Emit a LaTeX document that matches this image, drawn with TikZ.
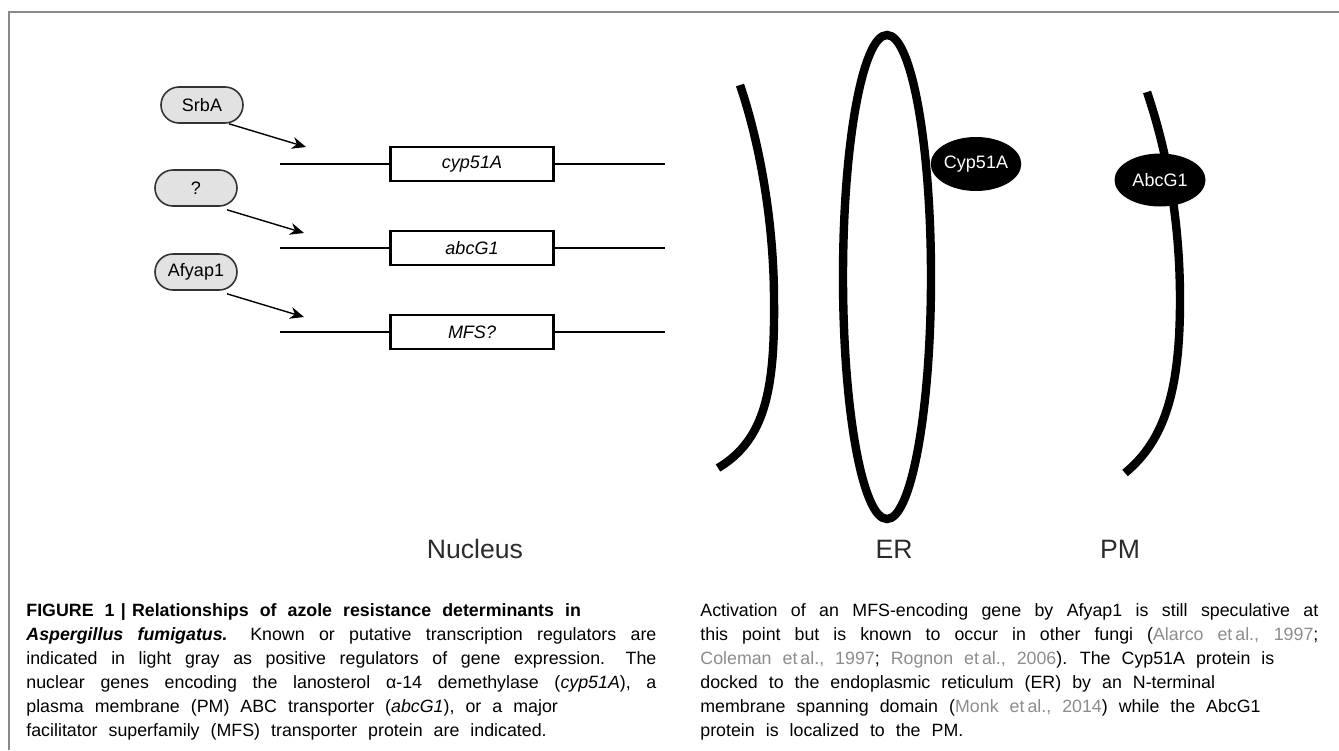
\documentclass[tikz,border=0pt]{standalone}
\usepackage{fontspec}
\setmainfont{Liberation Sans}
\usepackage{xcolor}
\usetikzlibrary{arrows.meta}
\usetikzlibrary{shapes.geometric}
\usetikzlibrary{shapes.misc}
\definecolor{pillgray}{HTML}{E2E2E2}
\definecolor{framegray}{HTML}{8A8A8A}
\definecolor{citegray}{HTML}{8C8C8C}
\definecolor{labelgray}{HTML}{2B2B2B}
\newcommand{\grayref}[1]{\textcolor{citegray}{#1}}

\begin{document}
\begin{tikzpicture}[x=0.5pt, y=-0.5pt,
        regulator/.style={rounded rectangle, draw=black!80, line width=0.8pt, fill=pillgray,
            minimum width=41pt, minimum height=18pt, inner sep=0pt, font=\fontsize{9}{10}\selectfont},
        gene/.style={rectangle, draw, line width=1.4pt, fill=white, minimum width=81.5pt,
            minimum height=17pt, inner sep=0pt, font=\fontsize{9}{10}\selectfont\itshape},
        geneline/.style={line width=1.4pt},
        regarrow/.style={line width=0.7pt, -{Stealth[length=7pt, width=6pt]}},
        membrane/.style={line width=4.2pt},
        protein/.style={ellipse, fill=black, text=white, inner sep=0pt, font=\fontsize{9}{10}\selectfont},
        compartment/.style={anchor=base, inner sep=0pt, text=labelgray, font=\fontsize{13.3}{15}\selectfont},
        legend/.style={anchor=base west, inner sep=0pt, align=justify, font=\fontsize{8.9}{12}\selectfont}
    ]
            \useasboundingbox (0,0) rectangle (1339,750);
            \draw [framegray, line width=1pt] (9,750) -- (9,12) -- (1339,12);

            \node [regulator] (srba) at (202,105) {SrbA};
            \node [regulator] (unk) at (196,188) {?};
            \node [regulator] (afyap) at (196,272) {Afyap1};

            \node [gene] (cyp) at (472,164) {cyp51A};
            \node [gene] (abc) at (472,248) {abcG1};
            \node [gene] (mfs) at (472,332) {MFS?};

            \coordinate (cypL) at (280,164);
            \coordinate (cypR) at (665,164);
            \coordinate (abcL) at (280,248);
            \coordinate (abcR) at (665,248);
            \coordinate (mfsL) at (280,332);
            \coordinate (mfsR) at (665,332);
            \draw [geneline] (cypL) -- (cyp.west);
            \draw [geneline] (cyp.east) -- (cypR);
            \draw [geneline] (abcL) -- (abc.west);
            \draw [geneline] (abc.east) -- (abcR);
            \draw [geneline] (mfsL) -- (mfs.west);
            \draw [geneline] (mfs.east) -- (mfsR);

            \coordinate (srbaTip) at (306,147);
            \coordinate (unkTip) at (304,233);
            \coordinate (afyapTip) at (304,317);
            \draw [regarrow] ([xshift=2pt]srba.south east) -- (srbaTip);
            \draw [regarrow] ([xshift=4pt, yshift=-1.5pt]unk.south east) -- (unkTip);
            \draw [regarrow] ([xshift=4pt, yshift=-1.5pt]afyap.south east) -- (afyapTip);

            \draw [membrane] (740,85) .. controls (762,150) and (774,230) .. (774,300)
                .. controls (775,390) and (765,440) .. (718,468);
            \draw [membrane] (887,277) ellipse [x radius=44, y radius=242];
            \node [protein, minimum width=45pt, minimum height=27pt] (cypprot) at (976,164) {Cyp51A};
            \draw [membrane] (1147,92) .. controls (1170,160) and (1180,230) .. (1180,300)
                .. controls (1180,390) and (1165,440) .. (1125,473);
            \node [protein, minimum width=45.5pt, minimum height=26.5pt] (abcprot) at (1160,180) {AbcG1};

            \node [compartment] (nuc) at (475,558) {Nucleus};
            \node [compartment] (er) at (894,558) {ER};
            \node [compartment] (pm) at (1120,558) {PM};

            \node [legend, text width=315pt] (leftcap) at (26,616) {%
                \spaceskip=0.62em plus 0.6em minus 0.22em \hyphenpenalty=10000 \exhyphenpenalty=10000
                {\bfseries FIGURE 1\hspace{0.35em}|\hspace{0.35em}Relationships of azole resistance determinants in}\newline
                {\bfseries\itshape Aspergillus fumigatus.} Known or putative transcription regulators are\linebreak
                indicated in light gray as positive regulators of gene expression. The\linebreak
                nuclear genes encoding the lanosterol α-14 demethylase (\textit{cyp51A}), a\linebreak
                plasma membrane (PM) ABC transporter (\textit{abcG1}), or a major\newline
                facilitator superfamily (MFS) transporter protein are indicated.};
            \node [legend, text width=309pt] (rightcap) at (700,616) {%
                \spaceskip=0.62em plus 0.6em minus 0.22em \hyphenpenalty=10000 \exhyphenpenalty=10000
                Activation of an MFS-encoding gene by Afyap1 is still speculative at\linebreak
                this point but is known to occur in other fungi (\grayref{Alarco et\,al., 1997};\linebreak
                \grayref{Coleman et\,al., 1997}; \grayref{Rognon et\,al., 2006}). The Cyp51A protein is\newline
                docked to the endoplasmic reticulum (ER) by an N-terminal\newline
                membrane spanning domain (\grayref{Monk et\,al., 2014}) while the AbcG1\newline
                protein is localized to the PM.};
        \end{tikzpicture}
\end{document}
